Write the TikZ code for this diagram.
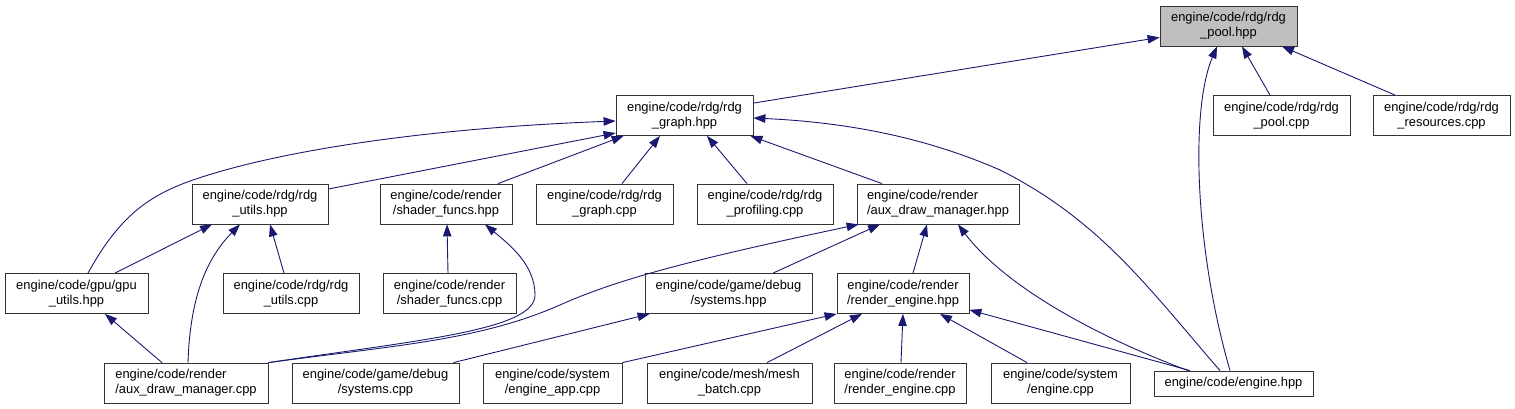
\documentclass[tikz,border=0pt]{standalone}
\usepackage{fontspec}
\setmainfont{Liberation Sans}
\usepackage{xcolor}
\usepackage{tikz}
\usetikzlibrary{arrows.meta}

\definecolor{mblue}{HTML}{191970}

\begin{document}
\begin{tikzpicture}[
    x=1pt, y=-1pt,
    file/.style={
        draw=black!80,
        fill=white,
        line width=0.8pt,
        align=center,
        minimum height=40pt,
        inner sep=0pt,
        font=\fontsize{12.9}{15}\selectfont
    },
    cur/.style={
        file,
        fill=black!25
    },
    dep/.style={
        draw=mblue,
        line width=0.9pt
    },
    ->, >={Triangle[length=12pt,width=8.5pt]}
]

\useasboundingbox (0,0) rectangle (1515,409);

% row 1
\node[cur, minimum width=137pt] (pool_hpp) at (1228.5,26) {engine/code/rdg/rdg\\\_pool.hpp};

% row 2
\node[file, minimum width=137pt] (graph_hpp) at (684.5,115.5) {engine/code/rdg/rdg\\\_graph.hpp};
\node[file, minimum width=137pt] (pool_cpp) at (1281.5,115.5) {engine/code/rdg/rdg\\\_pool.cpp};
\node[file, minimum width=137pt] (res_cpp) at (1441.5,115.5) {engine/code/rdg/rdg\\\_resources.cpp};

% row 3
\node[file, minimum width=136pt] (utils_hpp) at (260,204) {engine/code/rdg/rdg\\\_utils.hpp};
\node[file, minimum width=132pt] (shfun_hpp) at (446,204) {engine/code/render\\/shader\_funcs.hpp};
\node[file, minimum width=137pt] (graph_cpp) at (604.5,204) {engine/code/rdg/rdg\\\_graph.cpp};
\node[file, minimum width=136pt] (prof_cpp) at (765,204) {engine/code/rdg/rdg\\\_profiling.cpp};
\node[file, minimum width=162pt, align=left] (auxdm_hpp) at (938,204) {engine/code/render\\/aux\_draw\_manager.hpp};

% row 4
\node[file, minimum width=143pt] (gpu_hpp) at (76.5,293.5) {engine/code/gpu/gpu\\\_utils.hpp};
\node[file, minimum width=136pt] (utils_cpp) at (291,293.5) {engine/code/rdg/rdg\\\_utils.cpp};
\node[file, minimum width=133pt] (shfun_cpp) at (449.5,293.5) {engine/code/render\\/shader\_funcs.cpp};
\node[file, minimum width=167pt] (sys_hpp) at (728.5,293.5) {engine/code/game/debug\\/systems.hpp};
\node[file, minimum width=132pt] (rend_hpp) at (903,293.5) {engine/code/render\\/render\_engine.hpp};

% row 5
\node[file, minimum width=164pt, align=left] (auxdm_cpp) at (186,383) {engine/code/render\\/aux\_draw\_manager.cpp};
\node[file, minimum width=167pt] (sys_cpp) at (375.5,383) {engine/code/game/debug\\/systems.cpp};
\node[file, minimum width=139pt] (app_cpp) at (552.5,383) {engine/code/system\\/engine\_app.cpp};
\node[file, minimum width=165pt] (mesh_cpp) at (729.5,383) {engine/code/mesh/mesh\\\_batch.cpp};
\node[file, minimum width=132pt] (rend_cpp) at (900,383) {engine/code/render\\/render\_engine.cpp};
\node[file, minimum width=139pt] (eng_cpp) at (1060.5,383) {engine/code/system\\/engine.cpp};
\node[file, minimum width=159pt, minimum height=25pt] (eng_hpp) at (1233.5,383.5) {engine/code/engine.hpp};

% rdg_pool.hpp
\draw[dep] ([yshift=-8pt]graph_hpp.north east) -- ([yshift=9pt]pool_hpp.south west);
\draw[dep] ([xshift=-11.5pt]pool_cpp.north) -- ([xshift=13.5pt]pool_hpp.south);
\draw[dep] ([xshift=-46.5pt]res_cpp.north) -- ([xshift=53.5pt]pool_hpp.south);
\draw[dep] ([xshift=-3.5pt]eng_hpp.north) .. controls (1195,250) and (1190,110) .. ([xshift=-11.5pt]pool_hpp.south);

% rdg_graph.hpp
\draw[dep] ([yshift=15pt]utils_hpp.east) -- ([yshift=-17.5pt]graph_hpp.west);
\draw[dep] ([xshift=11.5pt]gpu_hpp.north) .. controls (120,215) and (150,195) .. (193,180)
    .. controls (280,150) and (430,128) .. ([yshift=-5.5pt]graph_hpp.west);
\draw[dep] ([xshift=52pt]shfun_hpp.north) -- ([xshift=8pt]graph_hpp.south west);
\draw[dep] ([xshift=17.5pt]graph_cpp.north) -- ([xshift=-24.5pt]graph_hpp.south);
\draw[dep] ([xshift=-18pt]prof_cpp.north) -- ([xshift=22.5pt]graph_hpp.south);
\draw[dep] ([xshift=-56pt]auxdm_hpp.north) -- ([xshift=-3pt]graph_hpp.south east);
\draw[dep] ([xshift=-13.5pt]eng_hpp.north) .. controls (1150,290) and (1100,220) .. (1000,170)
    .. controls (920,135) and (840,122) .. ([yshift=-2.5pt]graph_hpp.east);

% rdg_utils.hpp
\draw[dep] ([xshift=38.5pt]gpu_hpp.north) -- ([xshift=-48pt]utils_hpp.south);
\draw[dep] ([xshift=2pt]auxdm_cpp.north) .. controls (190,300) and (205,260) .. ([xshift=-20pt]utils_hpp.south);
\draw[dep] ([xshift=-7pt]utils_cpp.north) -- ([xshift=10pt]utils_hpp.south);

% shader_funcs.hpp
\draw[dep] ([xshift=-1.5pt]shfun_cpp.north) -- ([xshift=1pt]shfun_hpp.south);
\draw[dep] (auxdm_cpp.north east) .. controls (420,340) and (535,330) .. (535,295)
    .. controls (535,265) and (510,245) .. ([xshift=39pt]shfun_hpp.south);

% gpu_utils.hpp
\draw[dep] ([xshift=-24pt]auxdm_cpp.north) -- ([xshift=28.5pt]gpu_hpp.south);

% aux_draw_manager.hpp
\draw[dep] (auxdm_cpp.north east) .. controls (400,345) and (480,340) .. (560,305)
    .. controls (620,278) and (700,258) .. ([xshift=2pt]auxdm_hpp.south west);
\draw[dep] ([xshift=44.5pt]sys_hpp.north) -- ([xshift=-58pt]auxdm_hpp.south);
\draw[dep] ([xshift=10pt]rend_hpp.north) -- ([xshift=-11pt]auxdm_hpp.south);
\draw[dep] ([xshift=-45.5pt]eng_hpp.north) .. controls (1080,330) and (1000,280) .. ([xshift=20pt]auxdm_hpp.south);

% systems.hpp
\draw[dep] ([xshift=-6pt]sys_cpp.north east) -- ([xshift=5pt]sys_hpp.south west);

% render_engine.hpp
\draw[dep] (app_cpp.north east) -- (rend_hpp.south west);
\draw[dep] ([xshift=37.5pt]mesh_cpp.north) -- ([xshift=-41pt]rend_hpp.south);
\draw[dep] ([xshift=1pt]rend_cpp.north) -- (rend_hpp.south);
\draw[dep] ([xshift=-33.5pt]eng_cpp.north) -- ([xshift=37pt]rend_hpp.south);
\draw[dep] ([xshift=-43.5pt]eng_hpp.north) -- ([yshift=4pt]rend_hpp.south east);

\end{tikzpicture}
\end{document}
